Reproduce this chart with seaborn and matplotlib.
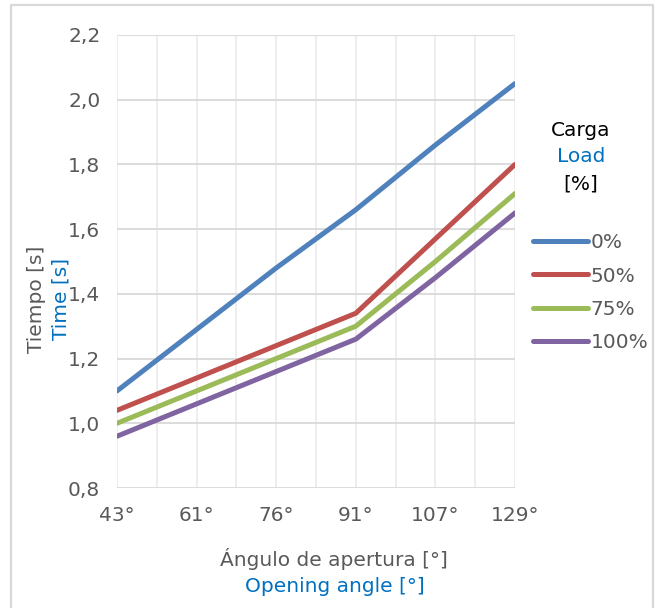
import matplotlib
matplotlib.use("Agg")
import matplotlib.pyplot as plt
from matplotlib.lines import Line2D
from matplotlib.ticker import FixedLocator, MultipleLocator, FuncFormatter
import seaborn as sns
import pandas as pd

# Opening angles (categorical axis) and closing time per load level
angles = ["43°", "61°", "76°", "91°", "107°", "129°"]
loads = ["0%", "50%", "75%", "100%"]
time_0 = [1.10, 1.29, 1.48, 1.66, 1.86, 2.05]
time_50 = [1.04, 1.14, 1.24, 1.34, 1.57, 1.80]
time_75 = [1.00, 1.10, 1.20, 1.30, 1.50, 1.71]
time_100 = [0.96, 1.06, 1.16, 1.26, 1.45, 1.65]
y_ticks = [0.8, 1.0, 1.2, 1.4, 1.6, 1.8, 2.0, 2.2]

colors = ["#4F81BD", "#C0504D", "#9BBB59", "#8064A2"]
gray_txt = "#595959"
blue_txt = "#0070C0"
FS = 14.5

rows = []
for load, series in zip(loads, [time_0, time_50, time_75, time_100]):
    for i, (ang, t) in enumerate(zip(angles, series)):
        rows.append({"pos": i, "angle": ang, "load": load, "time": t})
df = pd.DataFrame(rows)

sns.set_theme(style="white")
plt.rcParams["font.family"] = ["DejaVu Sans"]

fig = plt.figure(figsize=(6.62, 6.08), dpi=100)
ax = fig.add_axes([117 / 662, 1 - 488 / 608, (515 - 117) / 662, (488 - 35) / 608])

sns.lineplot(data=df, x="pos", y="time", hue="load", hue_order=loads,
             palette=colors, linewidth=3.6, sort=False, legend=False, ax=ax,
             solid_capstyle="round", solid_joinstyle="round")

ax.set_xlim(0, len(angles) - 1)
ax.set_ylim(y_ticks[0], y_ticks[-1])

# x axis: labels at each angle, extra gridlines halfway between
ax.xaxis.set_major_locator(FixedLocator(range(len(angles))))
ax.set_xticklabels(angles)
ax.xaxis.set_minor_locator(MultipleLocator(0.5))
ax.yaxis.set_major_locator(FixedLocator(y_ticks))
ax.yaxis.set_major_formatter(FuncFormatter(lambda v, _: f"{v:.1f}".replace(".", ",")))

ax.grid(False)
for i in range(2 * (len(angles) - 1) + 1):
    ax.axvline(i * 0.5, color="#ebebeb", lw=1.2, zorder=0)
for v in y_ticks:
    ax.axhline(v, color="#d9d9d9", lw=1.3, zorder=0)

for s in ax.spines.values():
    s.set_visible(False)
ax.tick_params(axis="both", which="both", length=0, labelsize=FS, colors=gray_txt)
ax.tick_params(axis="x", pad=13)
ax.tick_params(axis="y", pad=12)
ax.set_xlabel("")
ax.set_ylabel("")

# Bilingual axis titles
fig.text(334 / 662, 1 - 559 / 608, "Ángulo de apertura [°]", ha="center", va="center",
         fontsize=FS, color=gray_txt)
fig.text(335 / 662, 1 - 586 / 608, "Opening angle [°]", ha="center", va="center",
         fontsize=FS, color=blue_txt)
fig.text(37 / 662, 1 - 299 / 608, "Tiempo [s]", ha="center", va="center",
         rotation=90, fontsize=FS, color=gray_txt)
fig.text(61 / 662, 1 - 299 / 608, "Time [s]", ha="center", va="center",
         rotation=90, fontsize=FS, color=blue_txt)

# Legend title
fig.text(581 / 662, 1 - 131 / 608, "Carga", ha="center", va="center", fontsize=FS, color="black")
fig.text(581 / 662, 1 - 157 / 608, "Load", ha="center", va="center", fontsize=FS, color=blue_txt)
fig.text(581 / 662, 1 - 184 / 608, "[%]", ha="center", va="center", fontsize=FS, color="black")

handles = [Line2D([0], [0], color=c, lw=3.6, solid_capstyle="round") for c in colors]
leg = fig.legend(handles, loads, loc="upper left",
                 bbox_to_anchor=(533 / 662, 1 - 233 / 608), frameon=False,
                 fontsize=FS, handlelength=2.75, handletextpad=0.1,
                 labelspacing=0.72, borderaxespad=0, borderpad=0)
for t in leg.get_texts():
    t.set_color(gray_txt)

# Light outer frame
frame_c = "#d9d9d9"
fig.add_artist(Line2D([11 / 662, 11 / 662], [0, 1 - 5 / 608], color=frame_c, lw=1.6,
                      transform=fig.transFigure))
fig.add_artist(Line2D([11 / 662, 653 / 662], [1 - 5 / 608, 1 - 5 / 608], color=frame_c,
                      lw=1.6, transform=fig.transFigure))
fig.add_artist(Line2D([653 / 662, 653 / 662], [0, 1 - 5 / 608], color=frame_c, lw=1.6,
                      transform=fig.transFigure))

fig.savefig("out.png", dpi=100)
